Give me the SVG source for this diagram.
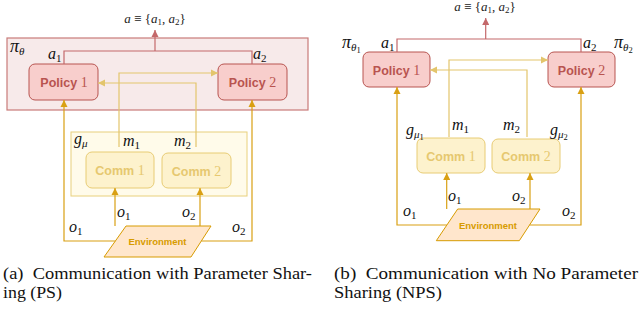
<svg xmlns="http://www.w3.org/2000/svg" width="639" height="320" viewBox="0 0 639 320">
<style>
.m{font-family:"Liberation Serif","DejaVu Serif",serif;font-style:italic;font-size:16px;fill:#111}
.pi{font-size:18px}
.s{font-size:11px}
.ss{font-size:8.5px;font-style:normal}
.eq{font-family:"Liberation Serif","DejaVu Serif",serif;font-size:13px;fill:#222}
.pol rect{fill:#f8cecc;stroke:#b85450;stroke-width:1}
.pol text{font-family:"Liberation Sans",Arial,sans-serif;font-weight:bold;font-size:12.5px;fill:#b85450;text-anchor:middle}
.com rect{fill:#fdf2cd;stroke:#e8cc74;stroke-width:1}
.com text{font-family:"Liberation Sans",Arial,sans-serif;font-weight:bold;font-size:12.5px;fill:#e6c870;text-anchor:middle}
.num{font-family:"Liberation Serif",serif;font-weight:normal;font-size:14px}
.env polygon{fill:#ffe6cc;stroke:#d79b00;stroke-width:1}
.env text{font-family:"Liberation Sans",Arial,sans-serif;font-weight:bold;font-size:9.5px;fill:#d79b00;text-anchor:middle}
.cap{font-family:"Liberation Serif","Times New Roman",serif;font-size:17px;fill:#111}
.red{fill:none;stroke:#c4686a;stroke-width:1.2}
.msg{fill:none;stroke:#e3c56c;stroke-width:1.2}
.obs{fill:none;stroke:#d9a013;stroke-width:1.2}
</style>
<defs>
<marker id="ar" viewBox="0 0 10 10" refX="10" refY="5" markerWidth="6" markerHeight="6" orient="auto"><path d="M0,0L10,5L0,10z" fill="#c4686a"/></marker>
<marker id="am" viewBox="0 0 10 10" refX="10" refY="5" markerWidth="6" markerHeight="6" orient="auto"><path d="M0,0L10,5L0,10z" fill="#e3c56c"/></marker>
<marker id="ao" viewBox="0 0 10 10" refX="10" refY="5" markerWidth="6" markerHeight="6" orient="auto"><path d="M0,0L10,5L0,10z" fill="#d9a013"/></marker>
</defs>

<!-- Left diagram (PS) -->
<g id="pi-theta">
<rect x="7" y="38" width="301" height="72" fill="#f7eaea" stroke="#c97b79" stroke-width="1.2"/>
<text class="m pi" x="10" y="52">π<tspan class="s" dy="3">θ</tspan></text>
</g>
<g id="g-mu">
<rect x="71" y="132" width="176" height="64" fill="#fffbea" stroke="#e8d07c" stroke-width="1"/>
<text class="m" x="74" y="144">g<tspan class="s" dy="3">μ</tspan></text>
</g>
<g id="L-policy1" class="pol"><rect x="29" y="64" width="69" height="36" rx="6"/><text x="64" y="87">Policy <tspan class="num">1</tspan></text></g>
<g id="L-policy2" class="pol"><rect x="218" y="64" width="69" height="36" rx="6"/><text x="252.5" y="87">Policy <tspan class="num">2</tspan></text></g>
<g id="L-comm1" class="com"><rect x="86" y="152" width="68" height="36" rx="6"/><text x="120" y="175">Comm <tspan class="num">1</tspan></text></g>
<g id="L-comm2" class="com"><rect x="162" y="153" width="69" height="35" rx="6"/><text x="196.5" y="175.5">Comm <tspan class="num">2</tspan></text></g>
<g id="L-env" class="env"><polygon points="126,226 211,226 191,257 104,257"/><text x="157.5" y="245">Environment</text></g>

<g id="L-connectors">
<polyline class="red" points="64,64 64,51 252,51 252,64"/>
<line class="red" x1="155" y1="51" x2="155" y2="30" marker-end="url(#ar)"/>
<polyline class="msg" points="119,147 119,73 218,73" marker-end="url(#am)"/>
<polyline class="msg" points="196,147 196,83 98,83" marker-end="url(#am)"/>
<polyline class="obs" points="115.4,241 64,241 64,100" marker-end="url(#ao)"/>
<polyline class="obs" points="201.3,241 252,241 252,100" marker-end="url(#ao)"/>
<line class="obs" x1="115" y1="226" x2="115" y2="188" marker-end="url(#ao)"/>
<line class="obs" x1="200" y1="226" x2="200" y2="188" marker-end="url(#ao)"/>
</g>
<g id="L-labels">
<text class="eq" x="155" y="23" text-anchor="middle"><tspan font-style="italic">a</tspan> ≡ {<tspan font-style="italic">a</tspan><tspan font-size="9" dy="2">1</tspan><tspan dy="-2">, </tspan><tspan font-style="italic">a</tspan><tspan font-size="9" dy="2">2</tspan><tspan dy="-2">}</tspan></text>
<text class="m" x="48" y="59">a<tspan class="s" dy="3" font-style="normal">1</tspan></text>
<text class="m" x="253" y="59">a<tspan class="s" dy="3" font-style="normal">2</tspan></text>
<text class="m" x="123" y="146">m<tspan class="s" dy="3" font-style="normal">1</tspan></text>
<text class="m" x="174" y="146">m<tspan class="s" dy="3" font-style="normal">2</tspan></text>
<text class="m" x="117" y="217">o<tspan class="s" dy="3" font-style="normal">1</tspan></text>
<text class="m" x="182" y="217">o<tspan class="s" dy="3" font-style="normal">2</tspan></text>
<text class="m" x="69" y="232">o<tspan class="s" dy="3" font-style="normal">1</tspan></text>
<text class="m" x="232" y="232">o<tspan class="s" dy="3" font-style="normal">2</tspan></text>
</g>

<!-- Right diagram (NPS) -->
<g id="R-policy1" class="pol"><rect x="363" y="52" width="67" height="35" rx="6"/><text x="396.5" y="74.5">Policy <tspan class="num">1</tspan></text></g>
<g id="R-policy2" class="pol"><rect x="548" y="52" width="67" height="35" rx="6"/><text x="581.5" y="74.5">Policy <tspan class="num">2</tspan></text></g>
<g id="R-comm1" class="com"><rect x="417" y="138" width="68" height="35" rx="6"/><text x="451" y="160.5">Comm <tspan class="num">1</tspan></text></g>
<g id="R-comm2" class="com"><rect x="492" y="139" width="68" height="34" rx="6"/><text x="526" y="161">Comm <tspan class="num">2</tspan></text></g>
<g id="R-env" class="env"><polygon points="457.7,209 540,209 519.3,240.7 436.3,240.7"/><text x="488" y="228.5">Environment</text></g>

<g id="R-connectors">
<polyline class="red" points="397,52 397,39 581,39 581,52"/>
<line class="red" x1="485.7" y1="39" x2="485.7" y2="18" marker-end="url(#ar)"/>
<polyline class="msg" points="449,137 449,60 548,60" marker-end="url(#am)"/>
<polyline class="msg" points="527,137 527,70 430,70" marker-end="url(#am)"/>
<polyline class="obs" points="446.9,225 397,225 397,87" marker-end="url(#ao)"/>
<polyline class="obs" points="529.5,225 581,225 581,87" marker-end="url(#ao)"/>
<line class="obs" x1="446.7" y1="209" x2="446.7" y2="173" marker-end="url(#ao)"/>
<line class="obs" x1="530" y1="209" x2="530" y2="173" marker-end="url(#ao)"/>
</g>
<g id="R-labels">
<text class="eq" x="485" y="11" text-anchor="middle"><tspan font-style="italic">a</tspan> ≡ {<tspan font-style="italic">a</tspan><tspan font-size="9" dy="2">1</tspan><tspan dy="-2">, </tspan><tspan font-style="italic">a</tspan><tspan font-size="9" dy="2">2</tspan><tspan dy="-2">}</tspan></text>
<text class="m pi" x="342" y="48">π<tspan class="s" dy="3">θ</tspan><tspan class="ss" dy="2">1</tspan></text>
<text class="m" x="381" y="48">a<tspan class="s" dy="3" font-style="normal">1</tspan></text>
<text class="m" x="583" y="48">a<tspan class="s" dy="3" font-style="normal">2</tspan></text>
<text class="m pi" x="614" y="48">π<tspan class="s" dy="3">θ</tspan><tspan class="ss" dy="2">2</tspan></text>
<text class="m" x="406" y="135">g<tspan class="s" dy="3">μ</tspan><tspan class="ss" dy="2">1</tspan></text>
<text class="m" x="452" y="130">m<tspan class="s" dy="3" font-style="normal">1</tspan></text>
<text class="m" x="503" y="130">m<tspan class="s" dy="3" font-style="normal">2</tspan></text>
<text class="m" x="550" y="135">g<tspan class="s" dy="3">μ</tspan><tspan class="ss" dy="2">2</tspan></text>
<text class="m" x="448" y="201">o<tspan class="s" dy="3" font-style="normal">1</tspan></text>
<text class="m" x="512" y="201">o<tspan class="s" dy="3" font-style="normal">2</tspan></text>
<text class="m" x="403" y="216">o<tspan class="s" dy="3" font-style="normal">1</tspan></text>
<text class="m" x="562" y="216">o<tspan class="s" dy="3" font-style="normal">2</tspan></text>
</g>

<g id="captions">
<text class="cap" x="3" y="279" textLength="309" lengthAdjust="spacingAndGlyphs" xml:space="preserve">(a)  Communication with Parameter Shar-</text>
<text class="cap" x="3" y="298" textLength="59" lengthAdjust="spacingAndGlyphs">ing (PS)</text>
<text class="cap" x="334" y="279" textLength="304" lengthAdjust="spacingAndGlyphs" xml:space="preserve">(b)  Communication with No Parameter</text>
<text class="cap" x="334" y="298" textLength="108" lengthAdjust="spacingAndGlyphs">Sharing (NPS)</text>
</g>
</svg>
